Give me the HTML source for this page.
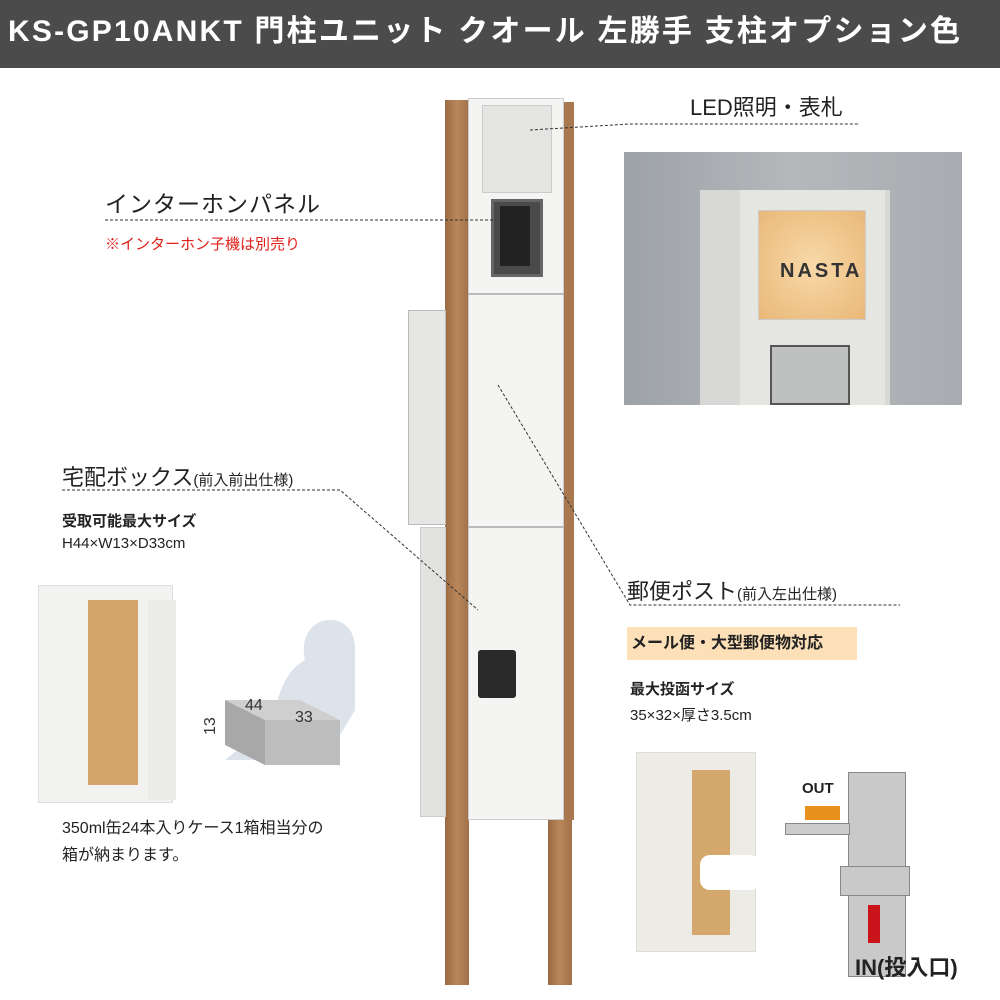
<!DOCTYPE html>
<html><head><meta charset="utf-8"><style>
*{margin:0;padding:0;box-sizing:border-box}
body{width:1000px;height:1000px;background:#fff;position:relative;overflow:hidden;font-family:"Liberation Sans","Noto Sans CJK JP",sans-serif;color:#222}
.a{position:absolute}
.hdr{left:0;top:0;width:1000px;height:68px;background:#4b4b4b;color:#fff;font-weight:bold;font-size:30px;line-height:64px;padding-left:8px;white-space:nowrap;letter-spacing:2.2px}
.t{position:absolute;white-space:nowrap}
</style></head><body>
<div class="a hdr">KS-GP10ANKT 門柱ユニット クオール 左勝手 支柱オプション色</div>

<!-- pillar -->
<div class="a" style="left:445px;top:100px;width:24px;height:885px;background:linear-gradient(90deg,#9a6a42,#b9875a,#a0714a)"></div>
<div class="a" style="left:563px;top:102px;width:11px;height:718px;background:#a87850"></div>
<div class="a" style="left:548px;top:820px;width:24px;height:165px;background:linear-gradient(90deg,#9a6a42,#b9875a,#a0714a)"></div>
<div class="a" style="left:408px;top:310px;width:38px;height:215px;background:#e6e6e4;border:1px solid #bbb"></div>
<div class="a" style="left:420px;top:527px;width:26px;height:290px;background:#e2e2e0;border:1px solid #ccc"></div>
<div class="a" style="left:468px;top:98px;width:96px;height:722px;background:#f4f4f2;border:1px solid #ccc"></div>
<div class="a" style="left:468px;top:293px;width:96px;height:2px;background:#bbb"></div>
<div class="a" style="left:468px;top:526px;width:96px;height:2px;background:#bbb"></div>
<div class="a" style="left:482px;top:105px;width:70px;height:88px;background:#e4e4e2;border:1px solid #ccc"></div>
<div class="a" style="left:491px;top:199px;width:52px;height:78px;background:#4a4a4a;border:3px solid #666"></div>
<div class="a" style="left:500px;top:206px;width:30px;height:60px;background:#222"></div>
<div class="a" style="left:478px;top:650px;width:38px;height:48px;background:#2a2a2a;border-radius:3px"></div>

<!-- dashed leaders -->
<svg class="a" style="left:0;top:0" width="1000" height="1000">
<g stroke="#333" stroke-dasharray="3,2" fill="none" stroke-width="1">
<polyline points="530,130 630,124 860,124"/>
<polyline points="105,220 496,220"/>
<polyline points="62,490 340,490 478,610"/>
<polyline points="498,385 630,605 900,605"/>
</g></svg>

<div class="t" style="left:690px;top:90px;font-size:22px">LED照明・表札</div>
<div class="t" style="left:105px;top:185px;font-size:23px;letter-spacing:1px">インターホンパネル</div>
<div class="t" style="left:105px;top:233px;font-size:15px;color:#e0201a">※インターホン子機は別売り</div>
<div class="t" style="left:62px;top:460px;font-size:22px">宅配ボックス<span style="font-size:15px">(前入前出仕様)</span></div>
<div class="t" style="left:62px;top:510px;font-size:15px;font-weight:bold">受取可能最大サイズ</div>
<div class="t" style="left:62px;top:535px;font-size:15px">H44×W13×D33cm</div>
<div class="t" style="left:627px;top:574px;font-size:22px">郵便ポスト<span style="font-size:15px">(前入左出仕様)</span></div>
<div class="t" style="left:627px;top:627px;width:230px;height:33px;background:#fde0b8;font-size:16px;font-weight:bold;line-height:33px;padding-left:4px">メール便・大型郵便物対応</div>
<div class="t" style="left:630px;top:678px;font-size:15px;font-weight:bold">最大投函サイズ</div>
<div class="t" style="left:630px;top:704px;font-size:15px">35×32×厚さ3.5cm</div>
<div class="t" style="left:62px;top:815px;font-size:16px;line-height:27px">350ml缶24本入りケース1箱相当分の<br>箱が納まります。</div>

<!-- photo top right -->
<div class="a" style="left:624px;top:152px;width:338px;height:253px;background:linear-gradient(90deg,#9da2a7,#b5b8bb 50%,#a8acb0)"></div>
<div class="a" style="left:700px;top:190px;width:190px;height:215px;background:#d8d9d6"></div>
<div class="a" style="left:740px;top:190px;width:145px;height:215px;background:#e5e6e2"></div>
<div class="a" style="left:758px;top:210px;width:108px;height:110px;background:radial-gradient(#f8d9a8,#e9b878);border:1px solid #ccc"></div>
<div class="t" style="left:780px;top:260px;font-size:20px;font-weight:bold;letter-spacing:3px;color:#333">NASTA</div>
<div class="a" style="left:770px;top:345px;width:80px;height:60px;background:#bfc1c0;border:2px solid #555"></div>

<!-- box left image -->
<div class="a" style="left:38px;top:585px;width:135px;height:218px;background:#f2f2f0;border:1px solid #ddd"></div>
<div class="a" style="left:88px;top:600px;width:50px;height:185px;background:#d3a56a"></div>
<div class="a" style="left:148px;top:600px;width:28px;height:200px;background:#ececea"></div>
<svg class="a" style="left:200px;top:600px" width="180" height="190">
<path d="M130,20 c-20,0 -30,20 -25,40 c-20,10 -30,40 -30,60 l-50,40 l100,0 l30,-50 l0,-60 c0,-20 -10,-30 -25,-30z" fill="#dde3ea"/>
<polygon points="25,100 100,100 140,120 65,120" fill="#cfcfcf"/>
<polygon points="25,100 65,120 65,165 25,145" fill="#a8a8a8"/>
<polygon points="65,120 140,120 140,165 65,165" fill="#bdbdbd"/>
<text x="45" y="110" font-size="16" fill="#333" font-family="Liberation Sans">44</text>
<text x="95" y="122" font-size="16" fill="#333" font-family="Liberation Sans">33</text>
<text x="15" y="135" font-size="16" fill="#333" font-family="Liberation Sans" transform="rotate(-90 15 135)">13</text>
</svg>

<!-- bottom right -->
<div class="a" style="left:636px;top:752px;width:120px;height:200px;background:#ecebe6;border:1px solid #ddd"></div>
<div class="a" style="left:692px;top:770px;width:38px;height:165px;background:#d4a86c"></div>
<div class="a" style="left:700px;top:855px;width:60px;height:35px;background:#fff;border-radius:10px"></div>
<div class="a" style="left:848px;top:772px;width:58px;height:205px;background:#c9c9c9;border:1px solid #888"></div>
<div class="a" style="left:840px;top:866px;width:70px;height:30px;background:#c9c9c9;border:1px solid #888"></div>
<div class="a" style="left:785px;top:823px;width:65px;height:12px;background:#ccc;border:1px solid #888"></div>
<div class="t" style="left:802px;top:780px;font-size:15px;font-weight:bold">OUT</div>
<div class="a" style="left:805px;top:806px;width:35px;height:14px;background:#e8901c"></div>
<div class="a" style="left:868px;top:905px;width:12px;height:38px;background:#c8141a"></div>
<div class="t" style="left:855px;top:950px;font-size:22px;font-weight:bold">IN(投入口)</div>
</body></html>
